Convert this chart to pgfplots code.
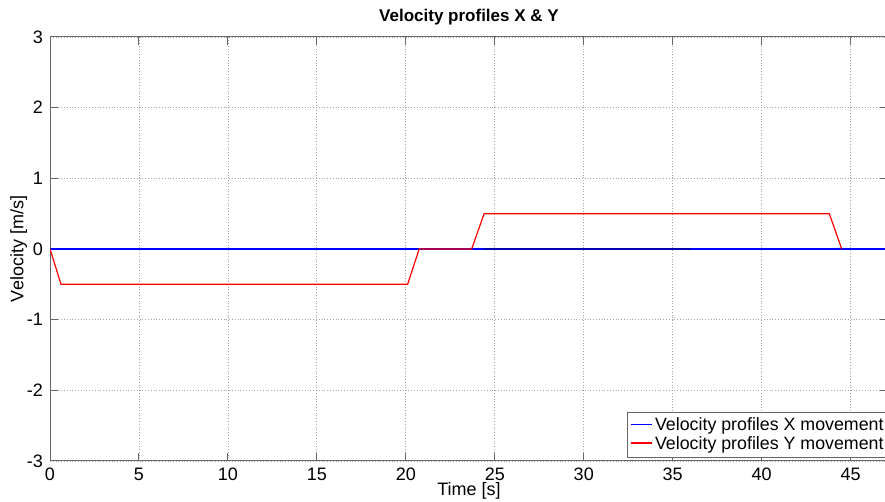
\documentclass[border=0pt]{standalone}
\usepackage{pgfplots}
\pgfplotsset{compat=1.18}
\usepackage{fontspec}
\setmainfont{Liberation Sans}
\begin{document}
\begin{tikzpicture}
\begin{axis}[
  scale only axis,
  width=419pt, height=212pt,
  xmin=0, xmax=47.1, ymin=-3, ymax=3,
  xtick={0,5,...,45}, ytick={-3,-2,...,3},
  /pgf/number format/assume math mode=true,
  tick label style={font=\fontsize{9}{10}\selectfont},
  label style={font=\fontsize{9}{10}\selectfont},
  title style={font=\bfseries\fontsize{8.5}{9}\selectfont, yshift=-3.5pt},
  title={Velocity profiles X \& Y},
  xlabel={Time [s]}, ylabel={Velocity [m/s]},
  xlabel style={yshift=6pt},
  ylabel style={yshift=-7pt},
  grid=major,
  grid style={densely dotted, gray!70, line width=0.4pt},
  axis line style={gray!80!black, line width=0.5pt},
  tick style={gray!80!black, line width=0.5pt},
  major tick length=4pt,
  tick align=inside,
  legend style={at={(axis cs:32.45,-2.307)}, anchor=north west,
    font=\fontsize{8.9}{10}\selectfont, draw=gray!80!black, line width=0.5pt,
    text=black,
    inner sep=1pt, row sep=-1.5pt, nodes={inner xsep=1pt, inner ysep=1.5pt, text=black}},
  legend cell align=left,
]
\addlegendimage{legend image code/.code={\begin{scope}\color{blue}\pgfsetstrokecolor{blue}\draw[color=blue, line width=0.8pt] (0cm,0.02cm) -- (0.38cm,0.02cm);\end{scope}}}
\addlegendimage{legend image code/.code={\begin{scope}\color{red}\pgfsetstrokecolor{red}\draw[color=red, line width=0.8pt] (0cm,0.02cm) -- (0.38cm,0.02cm);\end{scope}}}
\addplot[color=blue, line width=0.6pt, forget plot] coordinates {(0,0) (47.1,0)};
\addplot[color=red, line width=0.6pt, forget plot] coordinates {(0,0) (0.62,-0.5) (20.1,-0.5) (20.75,0) (23.7,0) (24.4,0.5) (43.8,0.5) (44.5,0)};
\addplot[color=blue!70!black, line width=0.7pt, forget plot] coordinates {(24.4,0) (36,0)};
\legend{Velocity profiles X movement, Velocity profiles Y movement}
\coordinate (sw) at (rel axis cs:0,0);
\end{axis}
\pgfresetboundingbox
\path (sw) ++(-25pt,-20.5pt) rectangle ++(442.5pt,251pt);
\end{tikzpicture}
\end{document}
